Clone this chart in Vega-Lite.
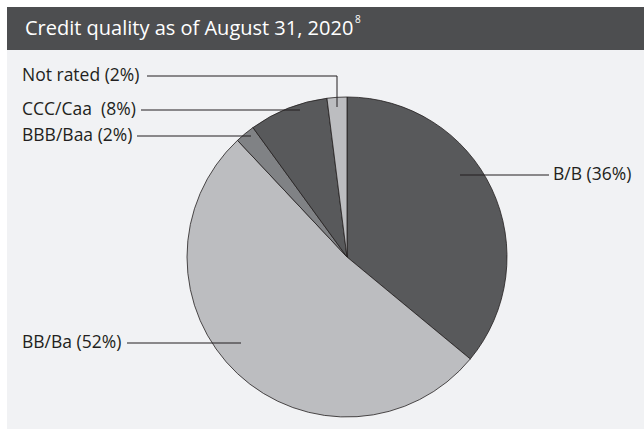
{
  "$schema": "https://vega.github.io/schema/vega-lite/v6.json",
  "width": 644,
  "height": 430,
  "autosize": {"type": "fit", "contains": "padding"},
  "padding": 0,
  "background": "#ffffff",
  "config": {"view": {"stroke": null}, "font": "Open Sans"},
  "data": {
    "values": [
      {"rating": "B/B", "share": 36, "rank": 1, "label": "B/B (36%)"},
      {"rating": "BB/Ba", "share": 52, "rank": 2, "label": "BB/Ba (52%)"},
      {"rating": "BBB/Baa", "share": 2, "rank": 3, "label": "BBB/Baa (2%)"},
      {"rating": "CCC/Caa", "share": 8, "rank": 4, "label": "CCC/Caa\u00a0 (8%)"},
      {"rating": "Not rated", "share": 2, "rank": 5, "label": "Not rated (2%)"}
    ]
  },
  "layer": [
    {
      "data": {"values": [{}]},
      "mark": {"type": "rect", "fill": "#f1f2f4"},
      "encoding": {"x": {"value": 7}, "x2": {"value": 644}, "y": {"value": 7}, "y2": {"value": 429}}
    },
    {
      "data": {"values": [{}]},
      "mark": {"type": "rect", "fill": "#4d4e50"},
      "encoding": {"x": {"value": 7}, "x2": {"value": 644}, "y": {"value": 7}, "y2": {"value": 50}}
    },
    {
      "data": {"values": [{"t": "Credit quality as of August 31, 2020"}]},
      "mark": {"type": "text", "x": 25, "y": 29, "align": "left", "baseline": "middle", "fontSize": 20, "color": "#ffffff"},
      "encoding": {"text": {"field": "t"}}
    },
    {
      "data": {"values": [{"t": "8"}]},
      "mark": {"type": "text", "x": 355, "y": 20, "align": "left", "baseline": "middle", "fontSize": 10, "color": "#ffffff"},
      "encoding": {"text": {"field": "t"}}
    },
    {
      "mark": {"type": "arc", "x": 347, "y": 257, "outerRadius": 160, "stroke": "#231f20", "strokeWidth": 0.8},
      "encoding": {
        "theta": {"field": "share", "type": "quantitative", "stack": true},
        "order": {"field": "rank", "type": "quantitative"},
        "color": {
          "field": "rating",
          "type": "nominal",
          "legend": null,
          "scale": {
            "domain": ["B/B", "BB/Ba", "BBB/Baa", "CCC/Caa", "Not rated"],
            "range": ["#58595b", "#bcbdc0", "#808285", "#58595b", "#bcbdc0"]
          }
        }
      }
    },
    {
      "data": {"values": [{}]},
      "mark": {"type": "rule", "stroke": "#231f20", "strokeWidth": 1},
      "encoding": {"x": {"value": 147}, "x2": {"value": 337}, "y": {"value": 76}}
    },
    {
      "data": {"values": [{}]},
      "mark": {"type": "rule", "stroke": "#231f20", "strokeWidth": 1},
      "encoding": {"x": {"value": 337}, "y": {"value": 76}, "y2": {"value": 107}}
    },
    {
      "data": {"values": [{}]},
      "mark": {"type": "rule", "stroke": "#231f20", "strokeWidth": 1},
      "encoding": {"x": {"value": 141}, "x2": {"value": 300}, "y": {"value": 110}}
    },
    {
      "data": {"values": [{}]},
      "mark": {"type": "rule", "stroke": "#231f20", "strokeWidth": 1},
      "encoding": {"x": {"value": 137}, "x2": {"value": 251}, "y": {"value": 136}}
    },
    {
      "data": {"values": [{}]},
      "mark": {"type": "rule", "stroke": "#231f20", "strokeWidth": 1},
      "encoding": {"x": {"value": 460}, "x2": {"value": 549}, "y": {"value": 175}}
    },
    {
      "data": {"values": [{}]},
      "mark": {"type": "rule", "stroke": "#231f20", "strokeWidth": 1},
      "encoding": {"x": {"value": 127}, "x2": {"value": 241}, "y": {"value": 343}}
    },
    {
      "transform": [{"filter": "datum.rating == 'Not rated'"}],
      "mark": {"type": "text", "x": 22, "y": 76, "align": "left", "baseline": "middle", "fontSize": 17.5, "color": "#231f20"},
      "encoding": {"text": {"field": "label"}}
    },
    {
      "transform": [{"filter": "datum.rating == 'CCC/Caa'"}],
      "mark": {"type": "text", "x": 22, "y": 110, "align": "left", "baseline": "middle", "fontSize": 17.5, "color": "#231f20"},
      "encoding": {"text": {"field": "label"}}
    },
    {
      "transform": [{"filter": "datum.rating == 'BBB/Baa'"}],
      "mark": {"type": "text", "x": 22, "y": 136, "align": "left", "baseline": "middle", "fontSize": 17.5, "color": "#231f20"},
      "encoding": {"text": {"field": "label"}}
    },
    {
      "transform": [{"filter": "datum.rating == 'BB/Ba'"}],
      "mark": {"type": "text", "x": 22, "y": 343, "align": "left", "baseline": "middle", "fontSize": 17.5, "color": "#231f20"},
      "encoding": {"text": {"field": "label"}}
    },
    {
      "transform": [{"filter": "datum.rating == 'B/B'"}],
      "mark": {"type": "text", "x": 553, "y": 175, "align": "left", "baseline": "middle", "fontSize": 17.5, "color": "#231f20"},
      "encoding": {"text": {"field": "label"}}
    }
  ]
}
